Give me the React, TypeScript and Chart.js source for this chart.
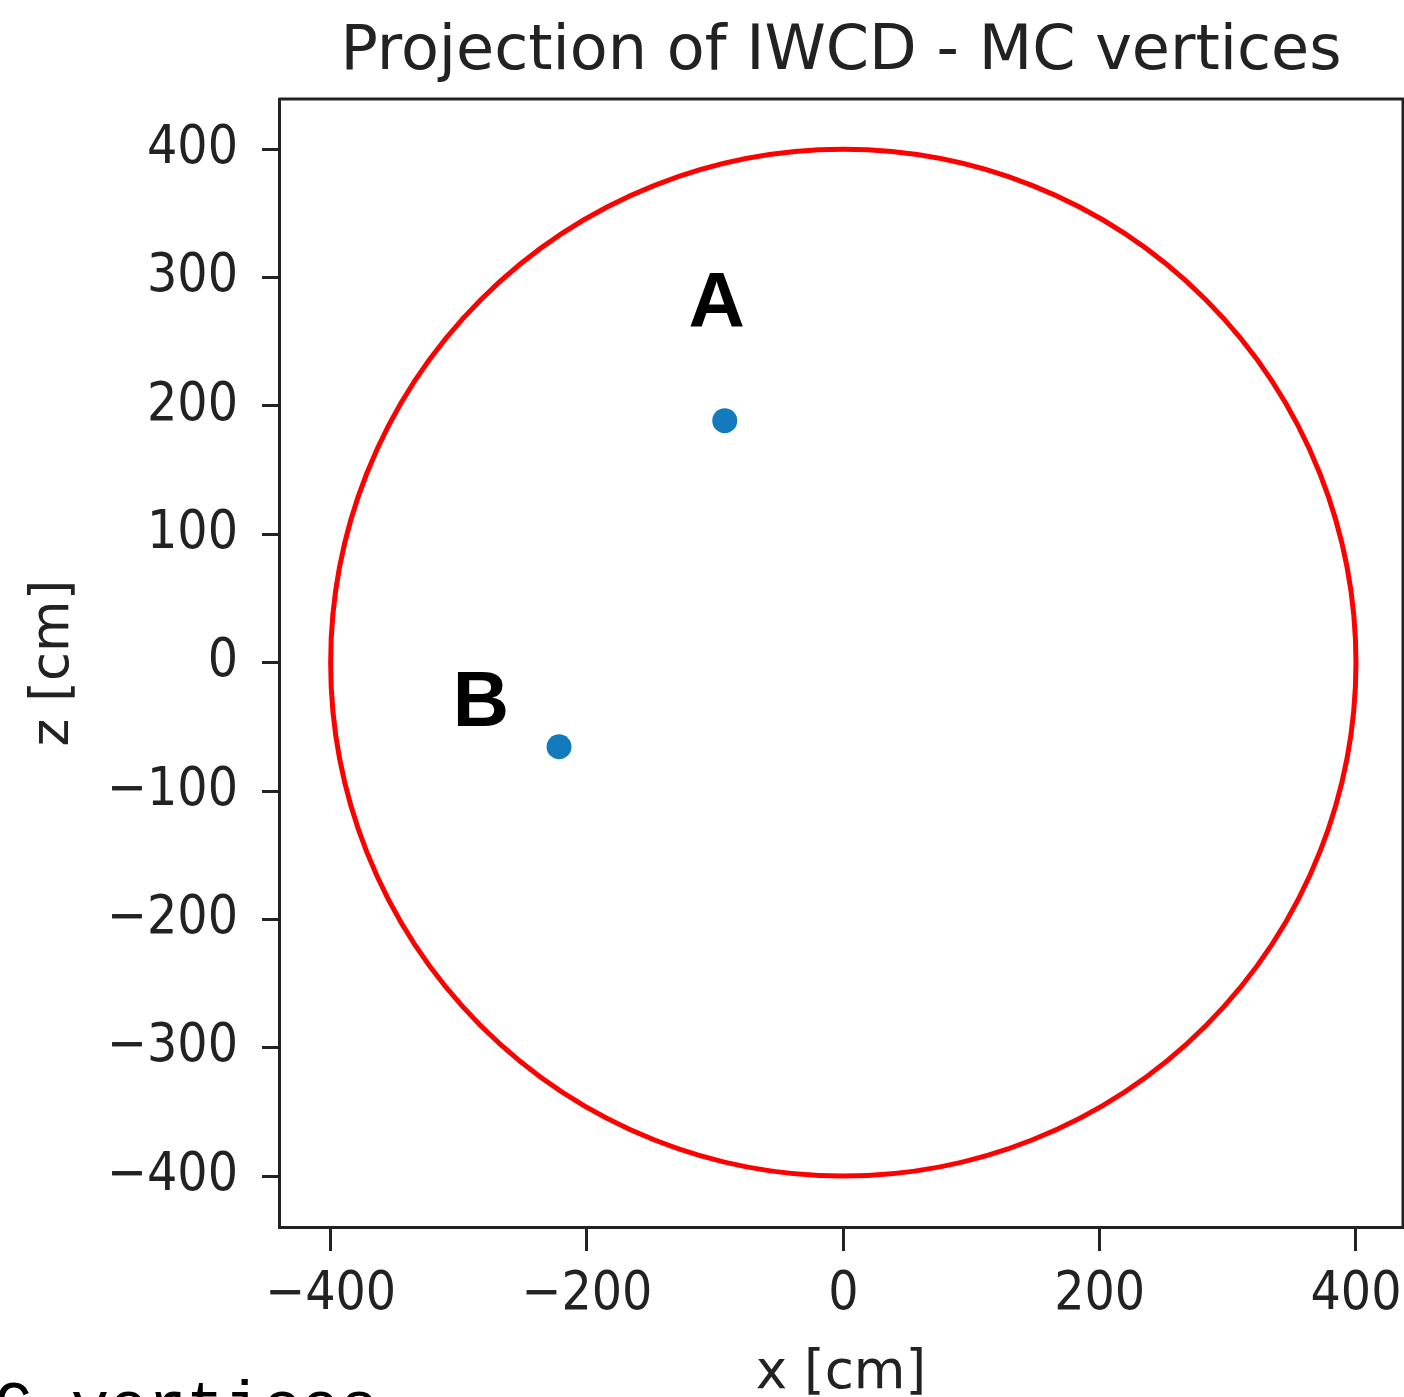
import React, { useEffect, useRef } from 'react';
import { Chart, registerables } from 'chart.js';

Chart.register(...registerables);

// ---- data ----
const titleText = 'Projection of IWCD - MC vertices';
const xAxisTitle = 'x [cm]';
const yAxisTitle = 'z [cm]';
const xTickValues = [-400, -200, 0, 200, 400];
const yTickValues = [-400, -300, -200, -100, 0, 100, 200, 300, 400];
const xRange = [-440.3, 436.7];
const yRange = [-439.7, 439.2];
const vertexX = [-92.5, -221.8];
const vertexZ = [188.6, -65.5];
const labelNames = ['A', 'B'];
const labelX = [-98.8, -282.7];
const labelZ = [278.7, -32.7];
const circleCenter = [0, 0];
const circleRadius = 400;
const footerText = 'C vertices';

const TICK_FONT = "'DejaVu Sans Condensed', 'DejaVu Sans', sans-serif";
const LABEL_FONT = "'DejaVu Sans', sans-serif";
const INK = '#222222';

const fmt = (v: number) => (v < 0 ? '\u2212' + Math.abs(v) : String(v));

const overlayPlugin = {
  id: 'overlay',
  beforeDatasetsDraw(chart: any) {
    const { ctx, scales } = chart;
    const xs = scales.x;
    const ys = scales.y;
    const cx = xs.getPixelForValue(circleCenter[0]);
    const cy = ys.getPixelForValue(circleCenter[1]);
    const rx = Math.abs(xs.getPixelForValue(circleCenter[0] + circleRadius) - cx);
    const ry = Math.abs(ys.getPixelForValue(circleCenter[1] + circleRadius) - cy);
    ctx.save();
    ctx.beginPath();
    ctx.ellipse(cx, cy, rx, ry, 0, 0, Math.PI * 2);
    ctx.strokeStyle = '#ff0000';
    ctx.lineWidth = 5;
    ctx.stroke();
    ctx.restore();
  },
  afterDraw(chart: any) {
    const { ctx, chartArea, scales } = chart;
    ctx.save();
    ctx.strokeStyle = INK;
    ctx.lineWidth = 3;
    ctx.beginPath();
    ctx.moveTo(chartArea.left, chartArea.top);
    ctx.lineTo(chartArea.right, chartArea.top);
    ctx.lineTo(chartArea.right, chartArea.bottom);
    ctx.stroke();
    ctx.fillStyle = '#000';
    ctx.font = "bold 78px 'Liberation Sans', Arial, sans-serif";
    ctx.textAlign = 'center';
    ctx.textBaseline = 'middle';
    labelNames.forEach((t, i) => {
      ctx.fillText(t, scales.x.getPixelForValue(labelX[i]), scales.y.getPixelForValue(labelZ[i]));
    });
    ctx.restore();
  },
};

export default function App() {
  const ref = useRef<HTMLCanvasElement | null>(null);
  useEffect(() => {
    if (!ref.current) return;
    const chart = new Chart(ref.current, {
      type: 'scatter',
      data: {
        datasets: [
          {
            label: 'MC vertices',
            data: vertexX.map((x, i) => ({ x, y: vertexZ[i] })),
            backgroundColor: '#127abd',
            borderWidth: 0,
            pointRadius: 12.5,
          },
        ],
      },
      options: {
        responsive: false,
        animation: false,
        layout: { autoPadding: false, padding: { top: 0, right: 1, left: 0, bottom: 0 } },
        plugins: {
          legend: { display: false },
          tooltip: { enabled: false },
          title: {
            display: true,
            text: titleText,
            fullSize: false,
            color: INK,
            font: { family: LABEL_FONT, size: 62, weight: 'normal', lineHeight: 1.2 },
            padding: { top: 16, bottom: 8.6 },
          },
        },
        scales: {
          x: {
            type: 'linear',
            min: xRange[0],
            max: xRange[1],
            afterFit: (s: any) => {
              s.height = 213;
              s.paddingLeft = 0;
              s.paddingRight = 0;
            },
            afterBuildTicks: (s: any) => {
              s.ticks = xTickValues.map((v) => ({ value: v }));
            },
            ticks: {
              includeBounds: false,
              autoSkip: false,
              maxRotation: 0,
              minRotation: 0,
              padding: 12,
              color: INK,
              font: { family: TICK_FONT, size: 53 },
              callback: (v: any) => fmt(Number(v)),
            },
            grid: {
              drawOnChartArea: false,
              drawTicks: true,
              tickLength: 24,
              tickWidth: 3,
              tickColor: INK,
            },
            border: { display: true, color: INK, width: 3 },
            title: {
              display: true,
              text: xAxisTitle,
              color: INK,
              font: { family: LABEL_FONT, size: 53, lineHeight: 1.2 },
              padding: { top: 34, bottom: 34 },
            },
          },
          y: {
            type: 'linear',
            min: yRange[0],
            max: yRange[1],
            afterFit: (s: any) => {
              s.width = 279;
              s.paddingTop = 0;
              s.paddingBottom = 0;
            },
            afterBuildTicks: (s: any) => {
              s.ticks = yTickValues.map((v) => ({ value: v }));
            },
            ticks: {
              includeBounds: false,
              autoSkip: false,
              padding: 24,
              color: INK,
              font: { family: TICK_FONT, size: 53 },
              callback: (v: any) => fmt(Number(v)),
            },
            grid: {
              drawOnChartArea: false,
              drawTicks: true,
              tickLength: 17,
              tickWidth: 3,
              tickColor: INK,
            },
            border: { display: true, color: INK, width: 3 },
            title: {
              display: true,
              text: yAxisTitle,
              color: INK,
              font: { family: LABEL_FONT, size: 53, lineHeight: 1.2 },
              padding: { top: 22, bottom: 0 },
            },
          },
        },
      },
      plugins: [overlayPlugin],
    } as any);
    return () => chart.destroy();
  }, []);

  return (
    <div
      style={{
        position: 'fixed',
        left: 0,
        top: 0,
        width: 1404,
        height: 1397,
        overflow: 'hidden',
        background: '#fff',
      }}
    >
      <canvas ref={ref} width={1404} height={1440} style={{ display: 'block', width: 1404, height: 1440 }} />
      <div
        style={{
          position: 'absolute',
          left: -6,
          top: 1377,
          fontFamily: "'Liberation Mono', 'DejaVu Sans Mono', monospace",
          fontSize: 64,
          lineHeight: 1,
          whiteSpace: 'pre',
          color: '#000',
        }}
      >
        {footerText}
      </div>
    </div>
  );
}
